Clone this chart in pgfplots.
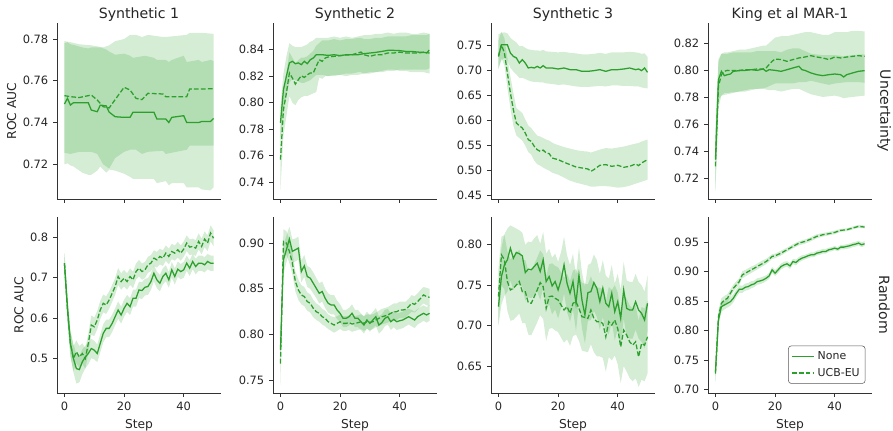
\documentclass[border=0pt]{standalone}
\usepackage{pgfplots}
\usepackage{pgfplotstable}
\usepackage{fontspec}
\setmainfont{DejaVu Sans}
\pgfplotsset{compat=1.18}
\usepgfplotslibrary{fillbetween}

\definecolor{tabgreen}{RGB}{44,160,44}
\definecolor{txt}{RGB}{38,38,38}

% ---- Uncertainty row ----
\pgfplotstableread{
s m lo hi
0 0.7489 0.7200 0.7780
1 0.7516 0.7205 0.7785
2 0.7484 0.7195 0.7775
3 0.7495 0.7190 0.7772
6 0.7495 0.7160 0.7760
8 0.7495 0.7150 0.7755
9 0.7460 0.7150 0.7760
11 0.7452 0.7170 0.7760
12 0.7483 0.7190 0.7760
14 0.7480 0.7160 0.7750
15 0.7450 0.7175 0.7740
17 0.7428 0.7170 0.7725
20 0.7425 0.7155 0.7730
22 0.7425 0.7140 0.7720
23 0.7450 0.7130 0.7710
27 0.7450 0.7130 0.7720
30 0.7450 0.7130 0.7710
31 0.7417 0.7110 0.7700
34 0.7417 0.7120 0.7700
35 0.7400 0.7100 0.7690
36 0.7425 0.7110 0.7700
40 0.7433 0.7110 0.7720
41 0.7400 0.7090 0.7690
45 0.7400 0.7090 0.7700
46 0.7405 0.7080 0.7690
49 0.7405 0.7075 0.7700
50 0.7420 0.7090 0.7695
}\uA
\pgfplotstableread{
s m lo hi
0 0.7529 0.7255 0.7790
2 0.7524 0.7250 0.7785
5 0.7520 0.7260 0.7775
9 0.7532 0.7260 0.7770
11 0.7508 0.7250 0.7765
13 0.7476 0.7200 0.7760
15 0.7470 0.7180 0.7770
17 0.7510 0.7230 0.7790
20 0.7569 0.7260 0.7800
22 0.7556 0.7270 0.7820
24 0.7516 0.7270 0.7820
26 0.7510 0.7250 0.7810
28 0.7540 0.7260 0.7820
33 0.7537 0.7265 0.7810
34 0.7524 0.7250 0.7810
41 0.7524 0.7270 0.7820
42 0.7561 0.7290 0.7830
46 0.7561 0.7290 0.7830
50 0.7562 0.7290 0.7825
}\uAd

\pgfplotstableread{
s m lo hi
0 0.7846 0.7720 0.7970
1 0.8098 0.7950 0.8220
2 0.8200 0.8050 0.8350
3 0.8300 0.8150 0.8450
4 0.8312 0.8180 0.8430
5 0.8294 0.8170 0.8420
6 0.8300 0.8160 0.8420
7 0.8287 0.8150 0.8420
8 0.8312 0.8150 0.8430
9 0.8294 0.8160 0.8440
10 0.8324 0.8170 0.8460
11 0.8337 0.8190 0.8470
12 0.8362 0.8210 0.8490
14 0.8362 0.8210 0.8490
16 0.8357 0.8200 0.8490
18 0.8362 0.8200 0.8500
20 0.8355 0.8210 0.8490
22 0.8362 0.8200 0.8500
24 0.8362 0.8210 0.8490
26 0.8362 0.8210 0.8500
28 0.8370 0.8220 0.8510
30 0.8375 0.8230 0.8510
32 0.8380 0.8230 0.8520
34 0.8387 0.8240 0.8520
36 0.8395 0.8250 0.8530
38 0.8395 0.8250 0.8520
40 0.8393 0.8240 0.8530
42 0.8387 0.8240 0.8530
44 0.8387 0.8230 0.8520
46 0.8382 0.8230 0.8520
48 0.8380 0.8230 0.8530
50 0.8375 0.8220 0.8520
}\uB
\pgfplotstableread{
s m lo hi
0 0.7568 0.7340 0.7790
1 0.7946 0.7750 0.8120
2 0.8072 0.7900 0.8220
3 0.8224 0.8050 0.8380
4 0.8186 0.8000 0.8340
5 0.8140 0.7980 0.8300
6 0.8173 0.8020 0.8320
7 0.8203 0.8040 0.8340
8 0.8190 0.8050 0.8340
9 0.8210 0.8050 0.8350
10 0.8224 0.8060 0.8370
11 0.8224 0.8070 0.8390
12 0.8274 0.8080 0.8430
13 0.8324 0.8190 0.8450
14 0.8312 0.8180 0.8470
15 0.8337 0.8200 0.8470
16 0.8345 0.8200 0.8470
18 0.8350 0.8210 0.8480
20 0.8355 0.8210 0.8470
22 0.8360 0.8220 0.8480
24 0.8362 0.8220 0.8480
26 0.8375 0.8230 0.8490
27 0.8382 0.8230 0.8490
28 0.8362 0.8220 0.8480
30 0.8350 0.8220 0.8480
32 0.8362 0.8230 0.8490
34 0.8362 0.8230 0.8490
36 0.8375 0.8240 0.8500
38 0.8375 0.8240 0.8500
40 0.8382 0.8250 0.8500
42 0.8375 0.8250 0.8500
44 0.8375 0.8250 0.8510
46 0.8375 0.8250 0.8510
48 0.8380 0.8250 0.8510
49 0.8375 0.8250 0.8510
50 0.8400 0.8260 0.8520
}\uBd

\pgfplotstableread{
s m lo hi
0 0.7280 0.7050 0.7720
1 0.7510 0.7200 0.7750
2 0.7510 0.7250 0.7760
3 0.7510 0.7200 0.7740
4 0.7347 0.7050 0.7650
5 0.7280 0.6980 0.7600
6 0.7250 0.6920 0.7560
7 0.7147 0.6850 0.7480
8 0.7214 0.6850 0.7490
9 0.7147 0.6830 0.7450
10 0.7048 0.6800 0.7420
11 0.7061 0.6780 0.7410
12 0.7048 0.6770 0.7400
13 0.7080 0.6770 0.7400
14 0.7048 0.6760 0.7390
15 0.7094 0.6760 0.7410
16 0.7048 0.6740 0.7380
18 0.7048 0.6730 0.7370
20 0.7028 0.6710 0.7360
22 0.7048 0.6720 0.7370
24 0.7015 0.6700 0.7350
26 0.7015 0.6680 0.7340
28 0.6981 0.6670 0.7320
30 0.6981 0.6670 0.7320
32 0.6995 0.6680 0.7330
34 0.7015 0.6690 0.7350
36 0.6981 0.6680 0.7330
38 0.7015 0.6700 0.7360
40 0.7015 0.6700 0.7360
42 0.7028 0.6690 0.7360
44 0.7048 0.6690 0.7370
46 0.7015 0.6680 0.7360
47 0.7028 0.6680 0.7350
48 0.6995 0.6660 0.7330
49 0.7048 0.6650 0.7340
50 0.6961 0.6640 0.7270
}\uC
\pgfplotstableread{
s m lo hi
0 0.7280 0.7020 0.7600
1 0.7510 0.7250 0.7770
2 0.7350 0.7100 0.7640
3 0.6948 0.6650 0.7250
4 0.6550 0.6250 0.6880
5 0.6217 0.5900 0.6550
6 0.5950 0.5700 0.6250
7 0.5898 0.5650 0.6200
8 0.5850 0.5600 0.6150
9 0.5750 0.5500 0.6020
10 0.5618 0.5370 0.5900
11 0.5585 0.5320 0.5850
12 0.5485 0.5200 0.5770
13 0.5418 0.5130 0.5700
14 0.5385 0.5100 0.5680
15 0.5410 0.5060 0.5650
16 0.5352 0.5030 0.5620
17 0.5340 0.5000 0.5600
18 0.5252 0.4960 0.5560
19 0.5235 0.4940 0.5530
20 0.5220 0.4920 0.5510
22 0.5166 0.4860 0.5470
24 0.5120 0.4800 0.5440
26 0.5073 0.4760 0.5410
28 0.5053 0.4730 0.5390
30 0.5033 0.4700 0.5380
31 0.4986 0.4680 0.5360
32 0.5020 0.4680 0.5380
34 0.5106 0.4690 0.5420
36 0.5120 0.4690 0.5450
38 0.5086 0.4680 0.5440
40 0.5106 0.4660 0.5460
42 0.5066 0.4670 0.5480
44 0.5086 0.4700 0.5510
46 0.5133 0.4740 0.5540
47 0.5100 0.4760 0.5550
48 0.5153 0.4780 0.5580
50 0.5220 0.4820 0.5620
}\uCd

\pgfplotstableread{
s m lo hi
0 0.7336 0.7120 0.7570
1 0.7928 0.7780 0.8080
2 0.7990 0.7810 0.8120
3 0.7958 0.7815 0.8120
4 0.7965 0.7820 0.8120
5 0.7970 0.7825 0.8125
6 0.7990 0.7830 0.8130
8 0.7995 0.7840 0.8130
10 0.7997 0.7850 0.8130
12 0.8002 0.7860 0.8130
14 0.7997 0.7860 0.8140
16 0.8007 0.7860 0.8140
17 0.7990 0.7855 0.8140
18 0.8002 0.7850 0.8140
20 0.7997 0.7850 0.8140
22 0.7990 0.7840 0.8130
24 0.8002 0.7850 0.8150
26 0.8015 0.7860 0.8160
28 0.8027 0.7860 0.8160
29 0.8002 0.7850 0.8150
30 0.7997 0.7840 0.8140
32 0.7978 0.7820 0.8120
34 0.7965 0.7810 0.8115
36 0.7958 0.7800 0.8110
38 0.7965 0.7805 0.8110
40 0.7970 0.7810 0.8110
42 0.7965 0.7800 0.8105
43 0.7948 0.7790 0.8100
44 0.7965 0.7795 0.8105
46 0.7978 0.7800 0.8110
48 0.7990 0.7805 0.8115
50 0.7995 0.7810 0.8115
}\uD
\pgfplotstableread{
s m lo hi
0 0.7286 0.7100 0.7500
1 0.7879 0.7720 0.8060
2 0.7965 0.7810 0.8120
3 0.7990 0.7830 0.8130
4 0.7997 0.7830 0.8130
6 0.7995 0.7835 0.8140
8 0.7997 0.7840 0.8150
10 0.8002 0.7840 0.8150
12 0.8002 0.7850 0.8160
14 0.8007 0.7860 0.8170
16 0.8007 0.7865 0.8180
17 0.8015 0.7870 0.8180
18 0.8040 0.7880 0.8200
19 0.8064 0.7890 0.8220
20 0.8081 0.7900 0.8240
22 0.8077 0.7900 0.8250
24 0.8064 0.7900 0.8250
26 0.8077 0.7900 0.8260
28 0.8089 0.7910 0.8270
30 0.8096 0.7910 0.8280
32 0.8106 0.7920 0.8280
34 0.8096 0.7910 0.8270
36 0.8089 0.7900 0.8260
38 0.8077 0.7890 0.8260
40 0.8096 0.7900 0.8280
42 0.8089 0.7905 0.8280
44 0.8096 0.7910 0.8280
46 0.8101 0.7910 0.8290
48 0.8106 0.7910 0.8290
50 0.8101 0.7905 0.8285
}\uDd

% ---- Random row ----
\pgfplotstableread{
s m lo hi
0 0.736 0.712 0.760
1 0.628 0.600 0.655
2 0.5366 0.505 0.568
3 0.4992 0.465 0.535
4 0.474 0.437 0.510
5 0.4717 0.440 0.505
6 0.491 0.460 0.522
7 0.503 0.475 0.531
8 0.5116 0.485 0.538
9 0.524 0.500 0.548
10 0.520 0.497 0.543
11 0.5116 0.490 0.534
12 0.5366 0.514 0.559
13 0.5615 0.539 0.584
14 0.574 0.552 0.596
15 0.574 0.552 0.596
16 0.5864 0.565 0.608
17 0.603 0.582 0.624
18 0.6197 0.598 0.641
19 0.6072 0.586 0.628
20 0.6238 0.603 0.645
21 0.6363 0.615 0.657
22 0.628 0.607 0.649
23 0.6488 0.628 0.670
24 0.6488 0.628 0.670
25 0.6695 0.649 0.690
26 0.668 0.647 0.689
27 0.6762 0.656 0.697
28 0.678 0.657 0.699
29 0.6903 0.670 0.711
30 0.711 0.691 0.731
31 0.6945 0.674 0.715
32 0.6862 0.666 0.707
33 0.7028 0.683 0.723
34 0.711 0.691 0.731
35 0.6945 0.675 0.714
36 0.7194 0.700 0.739
37 0.7028 0.683 0.723
38 0.721 0.702 0.740
39 0.715 0.696 0.734
40 0.7194 0.700 0.739
41 0.736 0.717 0.755
42 0.7235 0.704 0.743
43 0.7402 0.721 0.759
44 0.7277 0.708 0.747
45 0.736 0.717 0.755
46 0.736 0.717 0.755
47 0.7319 0.713 0.751
48 0.7402 0.721 0.759
49 0.736 0.717 0.755
50 0.736 0.717 0.755
}\rA
\pgfplotstableread{
s m lo hi
0 0.736 0.710 0.762
1 0.6197 0.590 0.648
2 0.5366 0.505 0.568
3 0.499 0.468 0.530
4 0.5158 0.488 0.544
5 0.503 0.476 0.530
6 0.5116 0.486 0.537
7 0.499 0.474 0.524
8 0.5366 0.512 0.561
9 0.5823 0.558 0.606
10 0.578 0.555 0.601
11 0.5947 0.572 0.617
12 0.6197 0.597 0.642
13 0.6363 0.614 0.658
14 0.632 0.610 0.654
15 0.6446 0.623 0.666
16 0.6612 0.640 0.682
17 0.6778 0.657 0.699
18 0.7028 0.682 0.724
19 0.6903 0.670 0.711
20 0.6986 0.678 0.719
21 0.6903 0.670 0.711
22 0.7028 0.682 0.723
23 0.6945 0.674 0.715
24 0.7152 0.695 0.735
25 0.7235 0.703 0.744
26 0.7152 0.695 0.735
27 0.7194 0.699 0.739
28 0.7319 0.712 0.752
29 0.736 0.716 0.756
30 0.7485 0.729 0.768
31 0.7443 0.725 0.764
32 0.7527 0.733 0.772
33 0.7485 0.729 0.768
34 0.761 0.742 0.780
35 0.7527 0.733 0.772
36 0.765 0.746 0.784
37 0.761 0.742 0.780
38 0.7693 0.750 0.789
39 0.761 0.742 0.780
40 0.771 0.752 0.790
41 0.7859 0.766 0.805
42 0.7759 0.756 0.795
43 0.7776 0.758 0.797
44 0.7734 0.754 0.793
45 0.790 0.770 0.810
46 0.7776 0.758 0.797
47 0.7958 0.776 0.815
48 0.7859 0.766 0.805
49 0.8108 0.790 0.830
50 0.798 0.778 0.818
}\rAd

\pgfplotstableread{
s m lo hi
0 0.783 0.768 0.798
1 0.8817 0.866 0.897
2 0.8927 0.879 0.908
3 0.9044 0.891 0.918
4 0.8909 0.878 0.904
5 0.8927 0.880 0.905
6 0.8945 0.882 0.907
7 0.8689 0.857 0.881
8 0.8751 0.863 0.887
9 0.8634 0.852 0.875
10 0.8616 0.850 0.873
11 0.8561 0.845 0.868
12 0.8506 0.840 0.862
13 0.8451 0.834 0.856
14 0.847 0.836 0.858
15 0.8396 0.829 0.850
16 0.8342 0.824 0.845
17 0.8323 0.822 0.843
18 0.8323 0.822 0.843
19 0.8268 0.817 0.837
20 0.8232 0.814 0.833
21 0.8177 0.808 0.827
22 0.8177 0.808 0.827
23 0.8195 0.810 0.829
24 0.8232 0.814 0.833
25 0.8177 0.808 0.827
26 0.8177 0.808 0.827
27 0.814 0.805 0.823
28 0.8104 0.801 0.820
29 0.8159 0.807 0.825
30 0.8122 0.803 0.821
31 0.8159 0.807 0.825
32 0.8195 0.810 0.829
33 0.8104 0.801 0.820
34 0.813 0.804 0.822
35 0.8177 0.809 0.827
36 0.8195 0.811 0.828
37 0.814 0.805 0.823
38 0.8166 0.808 0.826
39 0.814 0.805 0.823
40 0.8151 0.806 0.824
41 0.8159 0.807 0.825
42 0.8177 0.809 0.827
43 0.8195 0.811 0.828
44 0.8177 0.809 0.827
45 0.8159 0.807 0.825
46 0.8195 0.811 0.828
47 0.8214 0.813 0.830
48 0.8232 0.815 0.832
49 0.8214 0.813 0.830
50 0.8232 0.815 0.832
}\rB
\pgfplotstableread{
s m lo hi
0 0.7683 0.745 0.790
1 0.9018 0.888 0.915
2 0.900 0.887 0.913
3 0.8909 0.878 0.904
4 0.878 0.866 0.890
5 0.858 0.847 0.869
6 0.8488 0.838 0.860
7 0.8433 0.833 0.854
8 0.8415 0.831 0.852
9 0.836 0.826 0.846
10 0.8342 0.824 0.844
11 0.8287 0.819 0.838
12 0.825 0.816 0.834
13 0.8232 0.814 0.832
14 0.8195 0.811 0.828
15 0.8177 0.809 0.826
16 0.814 0.806 0.822
17 0.8122 0.804 0.820
18 0.8104 0.802 0.819
19 0.8122 0.804 0.820
20 0.814 0.806 0.822
21 0.8122 0.804 0.820
22 0.8122 0.804 0.820
23 0.813 0.805 0.821
24 0.8115 0.803 0.820
25 0.8122 0.804 0.820
26 0.813 0.805 0.821
27 0.814 0.806 0.822
28 0.8122 0.804 0.820
29 0.814 0.806 0.822
30 0.8133 0.805 0.822
31 0.814 0.806 0.822
32 0.8159 0.808 0.824
33 0.8177 0.809 0.826
34 0.8195 0.811 0.828
35 0.8203 0.812 0.829
36 0.8214 0.813 0.830
37 0.8232 0.815 0.832
38 0.825 0.816 0.834
39 0.825 0.816 0.834
40 0.8268 0.818 0.836
41 0.8268 0.818 0.836
42 0.8275 0.819 0.836
43 0.8305 0.822 0.839
44 0.8342 0.825 0.843
45 0.833 0.824 0.842
46 0.836 0.827 0.845
47 0.8396 0.831 0.849
48 0.8433 0.834 0.852
49 0.8415 0.832 0.851
50 0.8407 0.831 0.850
}\rBd

\pgfplotstableread{
s m lo hi
0 0.7234 0.700 0.748
1 0.7607 0.726 0.796
2 0.7752 0.737 0.813
3 0.7814 0.742 0.820
4 0.7959 0.756 0.824
5 0.7834 0.744 0.822
6 0.7905 0.751 0.820
7 0.7890 0.750 0.818
8 0.7863 0.748 0.815
9 0.7656 0.731 0.800
10 0.7698 0.735 0.804
11 0.7690 0.734 0.803
12 0.7731 0.738 0.808
13 0.7772 0.742 0.812
14 0.7669 0.732 0.801
15 0.7814 0.746 0.816
16 0.7545 0.720 0.789
17 0.7607 0.726 0.795
18 0.7491 0.714 0.784
19 0.7545 0.720 0.789
20 0.7441 0.709 0.779
21 0.7565 0.722 0.791
22 0.7752 0.740 0.810
23 0.7524 0.717 0.787
24 0.7400 0.705 0.775
25 0.7545 0.720 0.789
26 0.7276 0.693 0.762
27 0.7627 0.728 0.797
28 0.7317 0.697 0.766
29 0.7130 0.678 0.748
30 0.7408 0.706 0.775
31 0.7420 0.707 0.777
32 0.7532 0.718 0.788
33 0.7462 0.711 0.781
34 0.7296 0.695 0.764
35 0.7462 0.711 0.781
36 0.7276 0.693 0.762
37 0.7234 0.689 0.758
38 0.7400 0.705 0.775
39 0.7172 0.682 0.752
40 0.7296 0.695 0.764
41 0.7089 0.674 0.744
42 0.7441 0.709 0.779
43 0.7213 0.686 0.756
44 0.7193 0.684 0.754
45 0.7193 0.684 0.754
46 0.7296 0.695 0.764
47 0.7193 0.684 0.754
48 0.7151 0.680 0.750
49 0.7069 0.672 0.742
50 0.7276 0.693 0.762
}\rC
\pgfplotstableread{
s m lo hi
0 0.7358 0.702 0.770
1 0.7876 0.750 0.810
2 0.7814 0.745 0.812
3 0.7545 0.718 0.792
4 0.7441 0.706 0.782
5 0.7462 0.707 0.785
6 0.7503 0.711 0.790
7 0.7545 0.715 0.794
8 0.7420 0.703 0.781
9 0.7420 0.703 0.781
10 0.7284 0.689 0.768
11 0.7276 0.688 0.767
12 0.7358 0.696 0.776
13 0.7441 0.704 0.784
14 0.7532 0.713 0.793
15 0.7482 0.708 0.788
16 0.7213 0.681 0.761
17 0.7358 0.696 0.776
18 0.7366 0.697 0.777
19 0.7338 0.694 0.774
20 0.7317 0.692 0.772
21 0.7255 0.685 0.766
22 0.7193 0.679 0.759
23 0.7234 0.683 0.764
24 0.7151 0.675 0.755
25 0.7276 0.687 0.768
26 0.7296 0.689 0.770
27 0.7213 0.681 0.761
28 0.7110 0.669 0.753
29 0.7101 0.668 0.752
30 0.7089 0.667 0.751
31 0.7193 0.677 0.761
32 0.7089 0.667 0.751
33 0.7048 0.662 0.747
34 0.7048 0.662 0.747
35 0.7027 0.660 0.745
36 0.6862 0.643 0.729
37 0.7048 0.661 0.748
38 0.7006 0.657 0.744
39 0.7069 0.663 0.750
40 0.6965 0.652 0.741
41 0.6737 0.629 0.718
42 0.6944 0.650 0.739
43 0.6882 0.643 0.733
44 0.6800 0.635 0.725
45 0.6758 0.631 0.721
46 0.6800 0.635 0.725
47 0.6613 0.624 0.706
48 0.6779 0.633 0.723
49 0.6758 0.631 0.721
50 0.6862 0.641 0.731
}\rCd

\pgfplotstableread{
s m lo hi
0 0.7296 0.715 0.744
1 0.8179 0.808 0.828
2 0.8407 0.832 0.850
3 0.8435 0.836 0.851
4 0.8463 0.839 0.854
5 0.8492 0.842 0.856
6 0.8549 0.848 0.862
7 0.8634 0.857 0.870
8 0.8703 0.864 0.877
9 0.8703 0.864 0.876
10 0.8737 0.868 0.880
11 0.8749 0.869 0.881
12 0.8777 0.872 0.884
13 0.8794 0.874 0.885
14 0.8834 0.878 0.889
15 0.8845 0.879 0.890
16 0.8862 0.881 0.892
17 0.8891 0.884 0.894
18 0.8930 0.888 0.898
19 0.9033 0.898 0.908
20 0.8976 0.893 0.903
21 0.9033 0.898 0.908
22 0.9090 0.904 0.914
23 0.9118 0.907 0.917
24 0.9136 0.909 0.918
25 0.9101 0.905 0.915
26 0.9175 0.913 0.922
27 0.9158 0.911 0.921
28 0.9204 0.916 0.925
29 0.9232 0.919 0.928
30 0.9250 0.921 0.929
31 0.9272 0.923 0.931
32 0.9289 0.925 0.933
33 0.9289 0.925 0.933
34 0.9318 0.928 0.936
35 0.9329 0.929 0.937
36 0.9346 0.931 0.939
37 0.9346 0.931 0.939
38 0.9375 0.934 0.941
39 0.9386 0.935 0.942
40 0.9403 0.937 0.944
41 0.9386 0.935 0.942
42 0.9420 0.938 0.946
43 0.9420 0.938 0.946
44 0.9432 0.939 0.947
45 0.9443 0.940 0.948
46 0.9460 0.942 0.950
47 0.9472 0.943 0.951
48 0.9489 0.945 0.953
49 0.9460 0.942 0.950
50 0.9477 0.944 0.952
}\rD
\pgfplotstableread{
s m lo hi
0 0.7268 0.712 0.742
1 0.8236 0.814 0.834
2 0.8463 0.838 0.855
3 0.8520 0.845 0.859
4 0.8549 0.848 0.862
5 0.8634 0.857 0.870
6 0.8720 0.866 0.878
7 0.8777 0.872 0.884
8 0.8834 0.878 0.889
9 0.8948 0.889 0.901
10 0.8976 0.892 0.903
11 0.9005 0.895 0.906
12 0.9033 0.898 0.909
13 0.9061 0.901 0.911
14 0.9090 0.904 0.914
15 0.9118 0.907 0.917
16 0.9147 0.910 0.920
17 0.9175 0.913 0.922
18 0.9215 0.917 0.926
19 0.9261 0.922 0.930
20 0.9272 0.923 0.931
22 0.9318 0.928 0.936
24 0.9375 0.934 0.941
26 0.9432 0.940 0.947
28 0.9489 0.945 0.952
30 0.9517 0.948 0.955
32 0.9557 0.952 0.959
34 0.9603 0.957 0.964
36 0.9631 0.960 0.966
38 0.9648 0.962 0.968
40 0.9671 0.964 0.970
42 0.9705 0.968 0.973
44 0.9716 0.969 0.974
46 0.9745 0.972 0.977
48 0.9773 0.975 0.980
50 0.9762 0.974 0.979
}\rDd

\pgfplotsset{
  panel/.style={
    scale only axis, width=123pt, height=132pt,
    xmin=-2.5, xmax=52.5, xtick={0,20,40},
    axis x line*=bottom, axis y line*=left,
    axis line style={-, black!80, line width=0.6pt},
    tick align=outside, major tick length=3pt,
    tick style={black!80, line width=0.6pt},
    tick label style={font=\fontsize{8.6}{10}\selectfont, color=txt},
    /pgf/number format/assume math mode=true,
    yticklabel style={/pgf/number format/.cd, fixed, fixed zerofill, precision=2},
    label style={font=\fontsize{9.2}{11}\selectfont, color=txt},
    ylabel shift=-2pt,
    title style={font=\fontsize{10.6}{12}\selectfont, color=txt, anchor=base, yshift=-3pt},
    clip=false,
  },
  toprow/.style={xticklabels={}},
  botrow/.style={xlabel={Step}},
  band/.style={fill=tabgreen, fill opacity=0.2, draw=none, forget plot},
  mline/.style={tabgreen, line width=0.95pt},
  dline/.style={tabgreen, line width=0.95pt, dash pattern=on 3.6pt off 1.6pt},
  legend image code/.code={\draw[#1] (0pt,0pt) -- (17pt,0pt);},
}

\newcommand{\pair}[2]{%
  \addplot[draw=none, name path=alo, forget plot] table[x=s, y=lo] {#1};
  \addplot[draw=none, name path=ahi, forget plot] table[x=s, y=hi] {#1};
  \addplot[band] fill between[of=alo and ahi];
  \addplot[draw=none, name path=blo, forget plot] table[x=s, y=lo] {#2};
  \addplot[draw=none, name path=bhi, forget plot] table[x=s, y=hi] {#2};
  \addplot[band] fill between[of=blo and bhi];
  \addplot[mline] table[x=s, y=m] {#1};
  \addplot[dline] table[x=s, y=m] {#2};
}

\begin{document}
\begin{tikzpicture}

% top row: Uncertainty
\begin{axis}[panel, toprow, at={(42.75pt,174pt)}, title={Synthetic 1}, ylabel={ROC AUC},
  ymin=0.7034, ymax=0.7877, ytick={0.72,0.74,0.76,0.78}]
  \pair{\uA}{\uAd}
\end{axis}
\begin{axis}[panel, toprow, at={(204.75pt,174pt)}, title={Synthetic 2},
  ymin=0.7271, ymax=0.8602, ytick={0.74,0.76,0.78,0.80,0.82,0.84}]
  \pair{\uB}{\uBd}
\end{axis}
\begin{axis}[panel, toprow, at={(368.25pt,174pt)}, title={Synthetic 3},
  ymin=0.4434, ymax=0.7946, ytick={0.45,0.50,0.55,0.60,0.65,0.70,0.75}]
  \pair{\uC}{\uCd}
\end{axis}
\begin{axis}[panel, toprow, at={(531pt,174pt)}, title={King et al MAR-1},
  ymin=0.7044, ymax=0.8348, ytick={0.72,0.74,0.76,0.78,0.80,0.82}]
  \pair{\uD}{\uDd}
  \node[rotate=-90, font=\fontsize{10.6}{12}\selectfont, text=txt] at (rel axis cs:1.075,0.5) {Uncertainty};
\end{axis}

% bottom row: Random
\begin{axis}[panel, botrow, at={(42.75pt,28.5pt)}, ylabel={ROC AUC},
  ymin=0.4135, ymax=0.8507, ytick={0.5,0.6,0.7,0.8},
  yticklabel style={/pgf/number format/.cd, fixed, fixed zerofill, precision=1}]
  \pair{\rA}{\rAd}
\end{axis}
\begin{axis}[panel, botrow, at={(204.75pt,28.5pt)},
  ymin=0.7361, ymax=0.9285, ytick={0.75,0.80,0.85,0.90}]
  \pair{\rB}{\rBd}
\end{axis}
\begin{axis}[panel, botrow, at={(368.25pt,28.5pt)},
  ymin=0.6166, ymax=0.8344, ytick={0.65,0.70,0.75,0.80}]
  \pair{\rC}{\rCd}
\end{axis}
\begin{axis}[panel, botrow, at={(531pt,28.5pt)},
  ymin=0.6937, ymax=0.9933, ytick={0.70,0.75,0.80,0.85,0.90,0.95},
  legend style={at={(rel axis cs:1,0)}, anchor=south east, xshift=-5pt, yshift=7pt,
    font=\fontsize{8.2}{10}\selectfont, text=txt, draw=black!65, rounded corners=2pt,
    inner sep=2pt, row sep=1pt},
  legend cell align=left]
  \pair{\rD}{\rDd}
  \legend{None, UCB-EU}
  \node[rotate=-90, font=\fontsize{10.6}{12}\selectfont, text=txt] at (rel axis cs:1.075,0.5) {Random};
\end{axis}

\pgfresetboundingbox
\path[use as bounding box] (0,0) rectangle (669.75pt,323.25pt);
\end{tikzpicture}
\end{document}
